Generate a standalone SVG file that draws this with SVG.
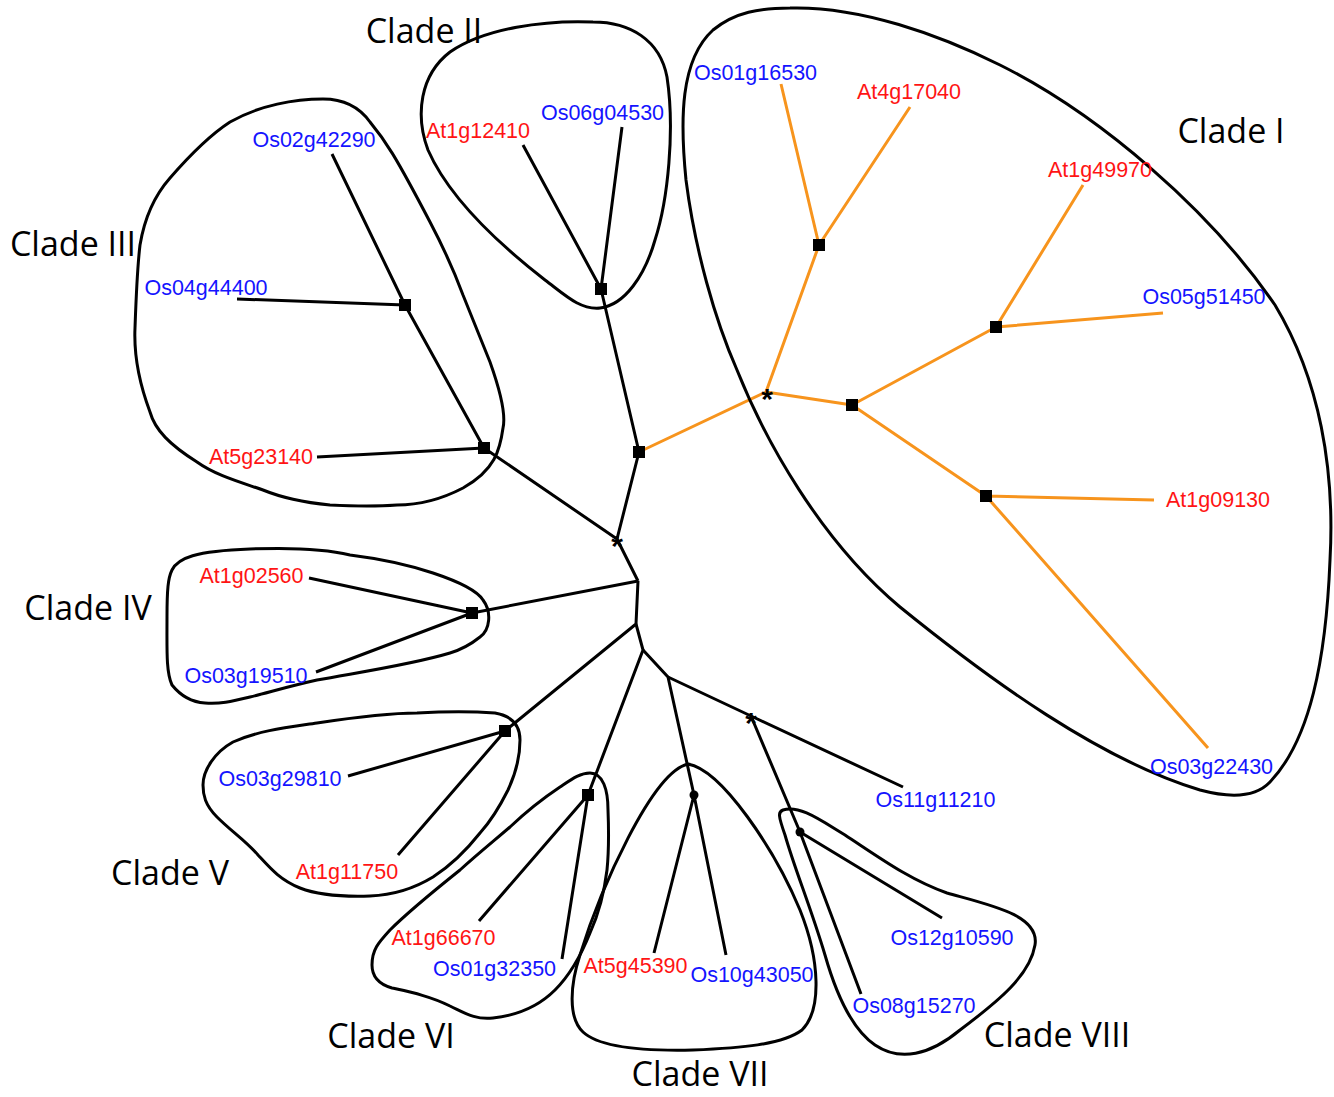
<svg xmlns="http://www.w3.org/2000/svg" width="1334" height="1097" viewBox="0 0 1334 1097">
<style>
.hull{fill:none;stroke:#000;stroke-width:3;stroke-linejoin:round}
.br{fill:none;stroke:#000;stroke-width:3;stroke-linecap:butt;stroke-linejoin:round}
.or{fill:none;stroke:#f7941d;stroke-width:3;stroke-linejoin:round}
.at{fill:#ff1414;font-family:"Liberation Sans",Arial,sans-serif;font-size:21.5px;text-anchor:middle}
.os{fill:#1414ff;font-family:"Liberation Sans",Arial,sans-serif;font-size:21.5px;text-anchor:middle}
.cl{fill:#000;font-family:"Open Sans","Liberation Sans",sans-serif;font-size:34px;text-anchor:middle}
.ast{fill:#000;font-family:"Liberation Sans",Arial,sans-serif;font-size:30px;font-weight:bold;text-anchor:middle}
</style>
<rect width="1334" height="1097" fill="#fff"/>
<g id="connectors">
<path class="br" d="M638,581 L617,539 L484,448 M617,539 L639,452 L601,289 L523,145 M601,289 L622,127 M484,448 L405,305 L332,154 M405,305 L237,299 M484,448 L317,457"/>
<path class="br" d="M638,581 L472,613 L309,578 M472,613 L316,672"/>
<path class="br" d="M638,581 L636,624 L505,731 L348,776 M505,731 L398,855"/>
<path class="br" d="M636,624 L643,650 L588,795 L479,921 M588,795 L562,959"/>
<path class="br" d="M643,650 L668,677 L694,795 L654,953 M694,795 L726,955"/>
<path class="br" d="M668,677 L751,716 L903,787 M751,716 L800,832 L942,918 M800,832 L861,994"/>
<path class="or" d="M639,452 L766,392 L819,245 L781,84 M819,245 L910,107 M766,392 L852,405 L996,327 L1083,185 M996,327 L1163,313 M852,405 L986,496 L1154,500 M986,496 L1208,748"/>
</g>
<g id="clade1">
<path class="hull" d="M790,8 C860,6 940,35 1000,65 C1100,115 1210,210 1275,305 C1320,380 1335,470 1330,560 C1326,660 1310,740 1270,782 C1255,798 1230,798 1200,790 C1100,760 990,680 900,607 C820,540 765,440 737,370 C715,320 695,250 686,180 C680,120 680,60 713,30 C735,12 760,8 790,8 Z"/>
<text class="cl" x="1231" y="143">Clade I</text>
<text class="os" x="755.5" y="80">Os01g16530</text>
<text class="at" x="909" y="99">At4g17040</text>
<text class="at" x="1100" y="177">At1g49970</text>
<text class="os" x="1204" y="304">Os05g51450</text>
<text class="at" x="1218" y="507">At1g09130</text>
<text class="os" x="1211.5" y="774">Os03g22430</text>
</g>
<g id="clade2">
<path class="hull" d="M593,22 C630,22 660,40 667,77 C675,130 668,200 655,240 C645,275 625,305 600,308 C580,310 565,295 545,280 C500,245 450,200 428,150 C415,115 420,75 450,52 C485,28 545,20 593,22 Z"/>
<text class="cl" x="424" y="43">Clade II</text>
<text class="at" x="478" y="138">At1g12410</text>
<text class="os" x="602.5" y="120">Os06g04530</text>
</g>
<g id="clade3">
<path class="hull" d="M323,99 C345,99 360,108 370,122 C385,140 395,155 430,222 C450,260 463,295 463,295 C475,325 490,362 490,362 C500,390 506,415 503,428 C500,450 495,470 463,488 C440,500 420,505 397,505 C370,507 350,506 330,505 C300,502 280,497 263,490 C240,482 215,475 197,462 C170,445 155,430 150,412 C138,380 134,350 135,328 C136,300 137,270 140,245 C145,215 155,195 170,178 C190,155 210,135 230,122 C260,105 295,99 323,99 Z"/>
<text class="cl" x="73" y="256">Clade III</text>
<text class="os" x="314" y="147">Os02g42290</text>
<text class="os" x="206" y="295">Os04g44400</text>
<text class="at" x="261" y="464">At5g23140</text>
</g>
<g id="clade4">
<path class="hull" d="M250,549 C300,547 330,550 350,555 C390,560 415,567 433,573 C460,582 478,592 483,600 C492,612 490,630 480,637 C470,645 460,650 450,653 C410,665 360,672 317,680 C290,686 270,692 250,697 C230,702 220,704 205,703 C190,702 180,695 172,685 C166,672 167,650 167,617 C167,590 168,578 172,570 C178,558 195,551 250,549 Z"/>
<text class="cl" x="88" y="620">Clade IV</text>
<text class="at" x="251.5" y="583">At1g02560</text>
<text class="os" x="246" y="683">Os03g19510</text>
</g>
<g id="clade5">
<path class="hull" d="M233,742 C260,730 290,727 317,723 C350,718 390,713 417,713 C450,711 470,711 495,713 C512,716 520,725 520,740 C520,760 515,775 508,790 C498,810 490,822 480,833 C465,852 450,866 433,877 C415,888 395,895 370,896 C340,897 318,895 300,888 C280,880 270,868 258,855 C245,840 232,832 217,817 C205,805 203,795 203,785 C203,770 215,752 233,742 Z"/>
<text class="cl" x="170" y="885">Clade V</text>
<text class="os" x="280" y="786">Os03g29810</text>
<text class="at" x="347" y="879">At1g11750</text>
</g>
<g id="clade6">
<path class="hull" d="M590,773 C603,773 608,790 608,810 C609,835 609,850 607,870 C604,895 598,915 590,933 C580,958 570,975 555,990 C540,1005 520,1015 493,1018 C475,1020 465,1013 450,1006 C430,996 410,992 392,988 C378,984 372,976 372,965 C372,950 378,943 390,930 C410,910 435,890 460,870 C480,852 495,840 510,827 C530,808 545,797 560,787 C572,779 580,773 590,773 Z"/>
<text class="cl" x="391" y="1048">Clade VI</text>
<text class="at" x="443.5" y="945">At1g66670</text>
<text class="os" x="494.5" y="976">Os01g32350</text>
</g>
<g id="clade7">
<path class="hull" d="M688,764 C722,770 775,850 800,910 C820,960 822,1010 802,1030 C782,1045 740,1048 693,1050 C650,1051 600,1048 583,1032 C568,1018 570,985 580,955 C600,890 652,772 688,764 Z"/>
<text class="cl" x="700" y="1086">Clade VII</text>
<text class="at" x="635.5" y="973">At5g45390</text>
<text class="os" x="752" y="982">Os10g43050</text>
</g>
<g id="clade8">
<path class="hull" d="M783,810 C800,805 820,820 845,835 C880,858 910,880 947,893 C990,905 1040,915 1035,945 C1030,975 1000,1000 960,1030 C930,1055 900,1062 875,1045 C850,1028 835,990 825,955 C810,905 795,870 785,835 C778,815 778,812 783,810 Z"/>
<text class="cl" x="1057" y="1047">Clade VIII</text>
<text class="os" x="935.5" y="807">Os11g11210</text>
<text class="os" x="952" y="945">Os12g10590</text>
<text class="os" x="914" y="1013">Os08g15270</text>
</g>
<g id="markers">
<rect x="813" y="239" width="12" height="12"/>
<rect x="846" y="399" width="12" height="12"/>
<rect x="990" y="321" width="12" height="12"/>
<rect x="980" y="490" width="12" height="12"/>
<rect x="633" y="446" width="12" height="12"/>
<rect x="595" y="283" width="12" height="12"/>
<rect x="399" y="299" width="12" height="12"/>
<rect x="478" y="442" width="12" height="12"/>
<rect x="466" y="607" width="12" height="12"/>
<rect x="499" y="725" width="12" height="12"/>
<rect x="582" y="789" width="12" height="12"/>
<circle cx="694" cy="795" r="4.5"/>
<circle cx="800" cy="832" r="4.5"/>
<text class="ast" x="767" y="409">*</text>
<text class="ast" x="617" y="556">*</text>
<text class="ast" x="751" y="733">*</text>
</g>
</svg>
